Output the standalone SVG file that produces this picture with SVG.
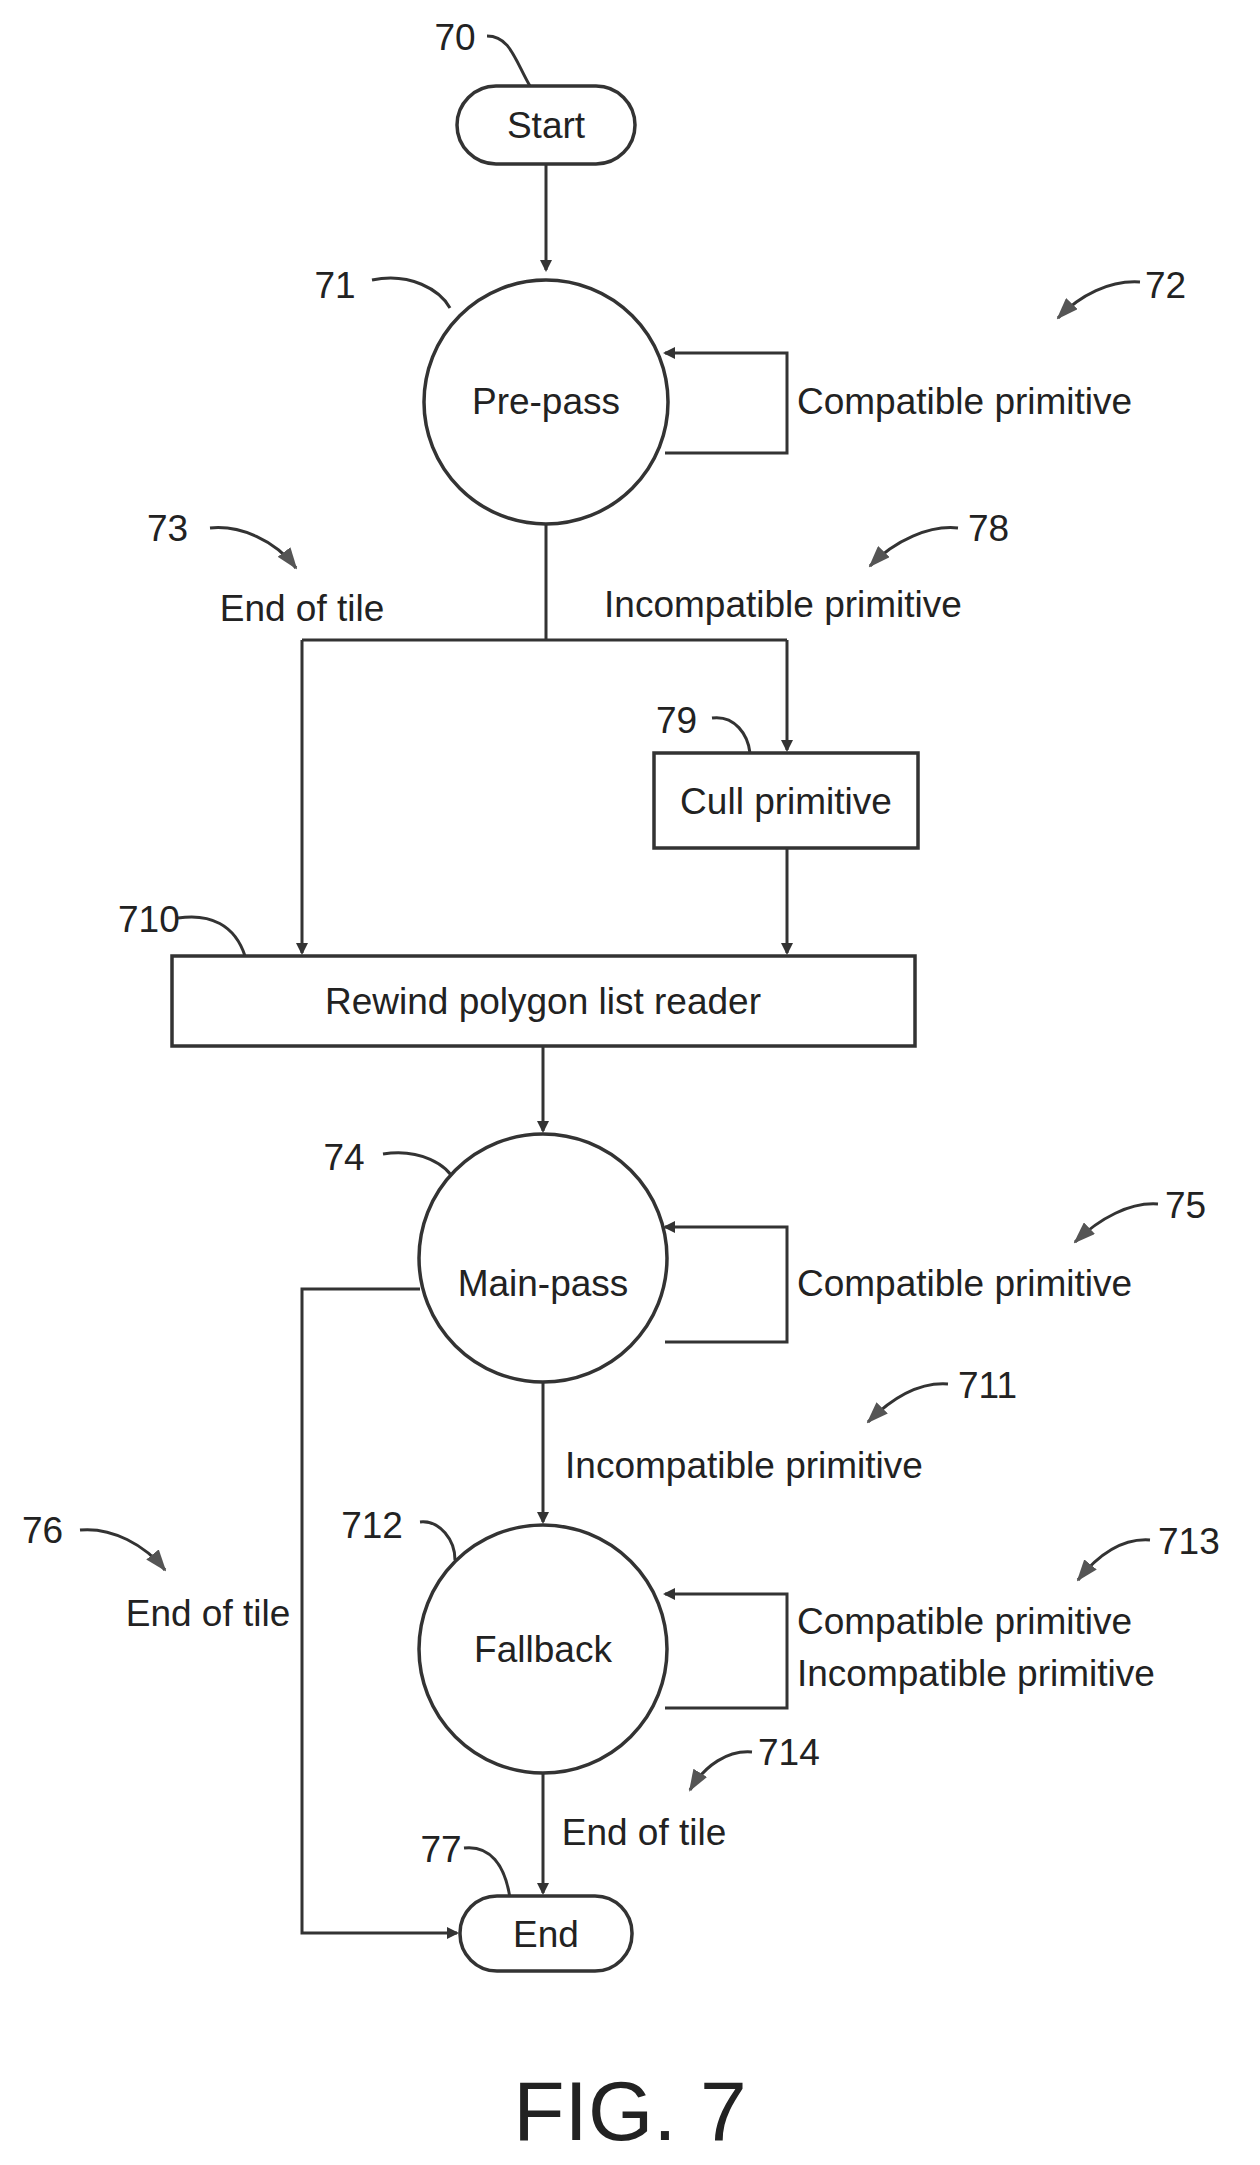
<svg xmlns="http://www.w3.org/2000/svg" width="1260" height="2165" viewBox="0 0 1260 2165">
<style>
.s{fill:none;stroke:#333;stroke-width:3}
.n{fill:#fff;stroke:#333;stroke-width:3.5}
text{font-family:"Liberation Sans",Arial,sans-serif;font-size:37px;fill:#222}
.c{text-anchor:middle}
</style>
<defs>
<marker id="a" markerWidth="12" markerHeight="12" refX="10" refY="6" orient="auto" markerUnits="userSpaceOnUse"><path d="M0,0 L12,6 L0,12 Z" fill="#333"/></marker>
<marker id="b" markerWidth="22" markerHeight="16" refX="20" refY="8" orient="auto" markerUnits="userSpaceOnUse"><path d="M0,0 L22,8 L0,16 Z" fill="#555"/></marker>
</defs>
<rect width="1260" height="2165" fill="#fff"/>
<g id="connectors">
<path class="s" d="M546,164 V270" marker-end="url(#a)"/>
<path class="s" d="M665,453 H787 V353 H665" marker-end="url(#a)"/>
<path class="s" d="M546,524 V640 M302,640 H787"/>
<path class="s" d="M302,640 V953" marker-end="url(#a)"/>
<path class="s" d="M787,640 V750" marker-end="url(#a)"/>
<path class="s" d="M787,848 V953" marker-end="url(#a)"/>
<path class="s" d="M543,1046 V1131" marker-end="url(#a)"/>
<path class="s" d="M665,1342 H787 V1227 H665" marker-end="url(#a)"/>
<path class="s" d="M420,1289 H302 V1933 H457" marker-end="url(#a)"/>
<path class="s" d="M543,1382 V1522" marker-end="url(#a)"/>
<path class="s" d="M665,1708 H787 V1594 H665" marker-end="url(#a)"/>
<path class="s" d="M543,1773 V1893" marker-end="url(#a)"/>
<path class="s" d="M1140,282 C1110,280 1080,295 1058,318" marker-end="url(#b)"/>
<path class="s" d="M210,528 C240,525 275,540 296,568" marker-end="url(#b)"/>
<path class="s" d="M958,528 C930,525 895,540 870,566" marker-end="url(#b)"/>
<path class="s" d="M1158,1204 C1130,1202 1100,1218 1075,1242" marker-end="url(#b)"/>
<path class="s" d="M948,1384 C920,1382 892,1398 868,1422" marker-end="url(#b)"/>
<path class="s" d="M1150,1540 C1122,1538 1098,1555 1078,1580" marker-end="url(#b)"/>
<path class="s" d="M752,1752 C728,1750 705,1765 690,1790" marker-end="url(#b)"/>
<path class="s" d="M80,1530 C112,1527 145,1545 165,1570" marker-end="url(#b)"/>
<path class="s" d="M487,36 C510,36 515,60 530,86"/>
<path class="s" d="M372,280 C410,272 440,290 450,308"/>
<path class="s" d="M712,718 C735,715 748,735 750,753"/>
<path class="s" d="M178,918 C210,913 235,925 245,956"/>
<path class="s" d="M383,1154 C420,1148 448,1165 455,1182"/>
<path class="s" d="M420,1522 C440,1520 455,1540 455,1560"/>
<path class="s" d="M464,1848 C490,1845 505,1865 510,1898"/>
</g>
<g id="n70"><rect class="n" x="457" y="86" width="178" height="78" rx="39"/><text class="c" x="546" y="138">Start</text><text class="c" x="455" y="50">70</text></g>
<g id="n71"><circle class="n" cx="546" cy="402" r="122"/><text class="c" x="546" y="414">Pre-pass</text><text class="c" x="335" y="298">71</text></g>
<g id="n72"><text x="797" y="414">Compatible primitive</text><text x="1145" y="298">72</text></g>
<g id="n73"><text x="147" y="541">73</text><text class="c" x="302" y="621">End of tile</text></g>
<g id="n78"><text x="968" y="541">78</text><text class="c" x="783" y="617">Incompatible primitive</text></g>
<g id="n79"><rect class="n" x="654" y="753" width="264" height="95"/><text class="c" x="786" y="814">Cull primitive</text><text x="656" y="733">79</text></g>
<g id="n710"><rect class="n" x="172" y="956" width="743" height="90"/><text class="c" x="543" y="1014">Rewind polygon list reader</text><text x="118" y="932">710</text></g>
<g id="n74"><circle class="n" cx="543" cy="1258" r="124"/><text class="c" x="543" y="1296">Main-pass</text><text class="c" x="344" y="1170">74</text></g>
<g id="n75"><text x="797" y="1296">Compatible primitive</text><text x="1165" y="1218">75</text></g>
<g id="n711"><text x="958" y="1398">711</text><text class="c" x="744" y="1478">Incompatible primitive</text></g>
<g id="n712"><circle class="n" cx="543" cy="1649" r="124"/><text class="c" x="543" y="1662">Fallback</text><text class="c" x="372" y="1538">712</text></g>
<g id="n713"><text x="1158" y="1554">713</text><text x="797" y="1634">Compatible primitive</text><text x="797" y="1686">Incompatible primitive</text></g>
<g id="n76"><text x="22" y="1543">76</text><text class="c" x="208" y="1626">End of tile</text></g>
<g id="n714"><text x="758" y="1765">714</text><text class="c" x="644" y="1845">End of tile</text></g>
<g id="n77"><rect class="n" x="460" y="1896" width="172" height="75" rx="37"/><text class="c" x="546" y="1947">End</text><text class="c" x="441" y="1862">77</text></g>
<text class="c" x="630" y="2140" style="font-size:84px">FIG. 7</text>
</svg>
